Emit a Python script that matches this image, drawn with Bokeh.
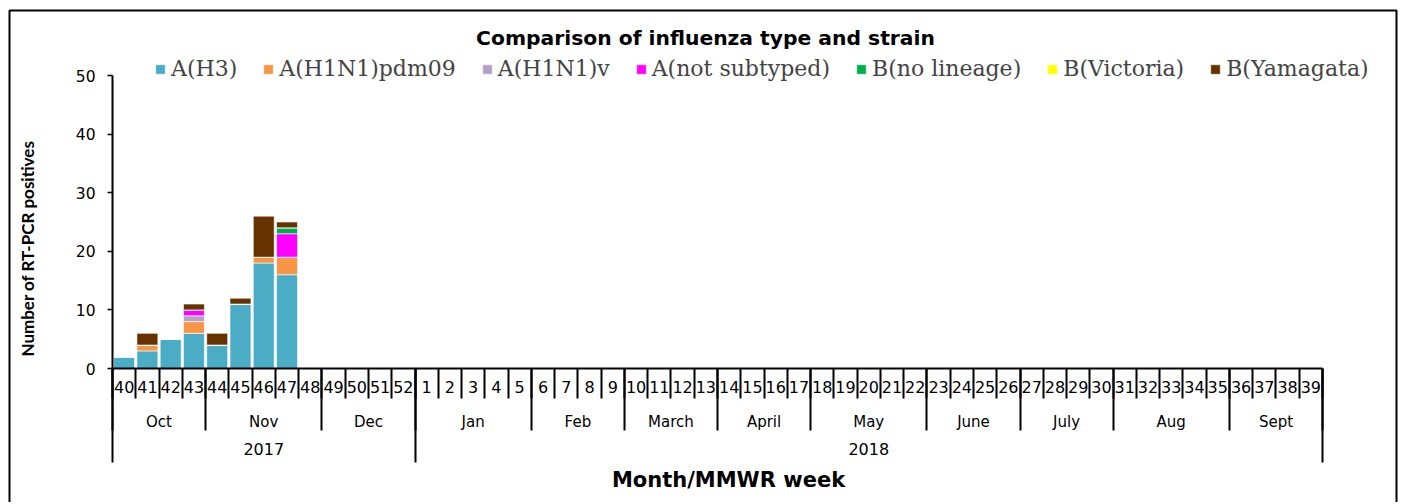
import math
from bokeh.plotting import figure
from bokeh.models import (LinearAxis, FixedTicker, Range1d, Legend, LegendItem,
                          Label, ColumnDataSource, BoxAnnotation, Grid)
from bokeh.embed import file_html
from bokeh.resources import INLINE

# ---------------- data ----------------
weeks = ["40", "41", "42", "43", "44", "45", "46", "47", "48", "49", "50", "51", "52",
         "1", "2", "3", "4", "5", "6", "7", "8", "9", "10", "11", "12", "13",
         "14", "15", "16", "17", "18", "19", "20", "21", "22", "23", "24", "25", "26",
         "27", "28", "29", "30", "31", "32", "33", "34", "35", "36", "37", "38", "39"]
months = ["Oct", "Nov", "Dec", "Jan", "Feb", "March", "April", "May", "June",
          "July", "Aug", "Sept"]
month_weeks = [4, 5, 4, 5, 4, 4, 4, 5, 4, 4, 5, 4]
years = ["2017", "2018"]
year_weeks = [13, 39]

reported_weeks = ["40", "41", "42", "43", "44", "45", "46", "47"]
a_h3 = [2, 3, 5, 6, 4, 11, 18, 16]
a_h1n1pdm09 = [0, 1, 0, 2, 0, 0, 1, 3]
a_h1n1v = [0, 0, 0, 1, 0, 0, 0, 0]
a_not_subtyped = [0, 0, 0, 1, 0, 0, 0, 4]
b_no_lineage = [0, 0, 0, 0, 0, 0, 0, 1]
b_victoria = [0, 0, 0, 0, 0, 0, 0, 0]
b_yamagata = [0, 2, 0, 1, 2, 1, 7, 1]

series_keys = ["a_h3", "a_h1n1pdm09", "a_h1n1v", "a_not_subtyped",
               "b_no_lineage", "b_victoria", "b_yamagata"]
series_names = ["A(H3)", "A(H1N1)pdm09", "A(H1N1)v", "A(not subtyped)",
                "B(no lineage)", "B(Victoria)", "B(Yamagata)"]
series_colors = ["#4BACC6", "#F79646", "#B3A2C7", "#FF00FF",
                 "#00B050", "#FFFF00", "#663300"]
y_ticks = [0, 10, 20, 30, 40, 50]

title_text = "Comparison of influenza type and strain"
x_title = "Month/MMWR week"
y_title = "Number of RT-PCR positives"

# ---------------- layout geometry (page pixels) ----------------
W, H = 1400, 502
n_weeks = len(weeks)
X0, X52 = 112, 1322          # page x of week boundary 0 and 52
Y0, Y50 = 368, 75            # page y of value 0 and 50
px_per_week = (X52 - X0) / n_weeks
px_per_unit = (Y0 - Y50) / 50

def sx(px):  # page px -> data x
    return (px - X0) / px_per_week

def sy(py):  # page px -> data y
    return (Y0 - py) / px_per_unit

p = figure(width=W, height=H, x_range=Range1d(sx(0), sx(W)), y_range=Range1d(sy(H), sy(0)),
           x_axis_location=None, y_axis_location=None, toolbar_location=None,
           output_backend="svg", min_border_left=0, min_border_right=0,
           min_border_top=0, min_border_bottom=0, outline_line_color=None)
for r in list(p.center):
    if isinstance(r, Grid):
        r.visible = False

# outer chart border
p.add_layout(BoxAnnotation(left=sx(9), right=sx(1396), top=sy(10), bottom=sy(530),
                           fill_alpha=0, line_color="black", line_width=2,
                           line_alpha=1))

# ---------------- bars ----------------
data = dict(x=[weeks.index(w) + 0.5 for w in reported_weeks],
            a_h3=a_h3, a_h1n1pdm09=a_h1n1pdm09, a_h1n1v=a_h1n1v,
            a_not_subtyped=a_not_subtyped, b_no_lineage=b_no_lineage,
            b_victoria=b_victoria, b_yamagata=b_yamagata)
src = ColumnDataSource(data)
renderers = p.vbar_stack(series_keys, x="x", width=0.9, source=src,
                         color=series_colors, line_color="white", line_alpha=0.6,
                         line_width=1)

# ---------------- y axis ----------------
yax = LinearAxis(fixed_location=0, bounds=(0, 50),
                 ticker=FixedTicker(ticks=y_ticks, minor_ticks=[]),
                 axis_line_width=2, axis_line_color="black",
                 major_tick_out=5, major_tick_in=0, major_tick_line_width=1.5,
                 minor_tick_line_color=None, major_label_standoff=12,
                 major_label_text_font="DejaVu Sans", major_label_text_font_size="15.5px",
                 major_label_text_color="black")
p.add_layout(yax, "left")

# ---------------- multi-level x axis ----------------
def boundaries(counts):
    b = [0]
    for c in counts:
        b.append(b[-1] + c)
    return b

def centers(b):
    return [(b[i] + b[i + 1]) / 2 for i in range(len(b) - 1)]

wb = boundaries([1] * n_weeks)
mb = boundaries(month_weeks)
yb = boundaries(year_weeks)
BND = (-0.001, n_weeks + 0.001)

def separator_axis(bnds, tick_len, line):
    ax = LinearAxis(fixed_location=0, bounds=BND,
                    ticker=FixedTicker(ticks=[], minor_ticks=bnds),
                    major_label_text_font_size="0px",
                    major_tick_line_color=None, major_tick_out=0, major_tick_in=0,
                    minor_tick_out=tick_len, minor_tick_in=0,
                    minor_tick_line_color="black", minor_tick_line_width=2,
                    axis_line_color="black" if line else None, axis_line_width=2)
    p.add_layout(ax, "below")

def label_axis(bnds, labels, standoff, size):
    cs = centers(bnds)
    ax = LinearAxis(fixed_location=0, bounds=BND,
                    ticker=FixedTicker(ticks=cs, minor_ticks=[]),
                    major_label_overrides={c: l for c, l in zip(cs, labels)},
                    major_tick_line_color=None, major_tick_out=0, major_tick_in=0,
                    minor_tick_line_color=None, axis_line_color=None,
                    major_label_standoff=standoff,
                    major_label_text_font="DejaVu Sans",
                    major_label_text_font_size=size,
                    major_label_text_color="black")
    p.add_layout(ax, "below")

separator_axis(yb, 94, False)
separator_axis(mb, 62, False)
separator_axis(wb, 30, True)
label_axis(wb, weeks, 12, "16px")
label_axis(mb, months, 44, "15px")
label_axis(yb, years, 74, "16px")

# ---------------- texts ----------------
p.add_layout(Label(x=sx(705), y=sy(37), text=title_text, text_align="center",
                   text_baseline="middle", text_font="DejaVu Sans", text_font_style="bold",
                   text_font_size="20.3px", text_color="black"))
p.add_layout(Label(x=sx(728), y=sy(479), text=x_title, text_align="center",
                   text_baseline="middle", text_font="DejaVu Sans", text_font_style="bold",
                   text_font_size="21px", text_color="black"))
p.add_layout(Label(x=sx(27), y=sy(248), text=y_title, text_align="center",
                   text_baseline="middle", angle=math.pi / 2, text_font="Lato",
                   text_font_style="bold", text_font_size="17px", text_color="black"))

# ---------------- legend ----------------
items = [LegendItem(label=n, renderers=[r]) for n, r in zip(series_names, renderers)]
legend = Legend(items=items, orientation="horizontal", location=(154, 421),
                border_line_color=None, background_fill_alpha=0,
                label_text_font="DejaVu Serif", label_text_font_size="22px",
                glyph_width=12, glyph_height=12, label_standoff=5, spacing=25,
                padding=4, margin=0)
p.add_layout(legend)

open("out.html", "w").write(file_html(p, INLINE))
